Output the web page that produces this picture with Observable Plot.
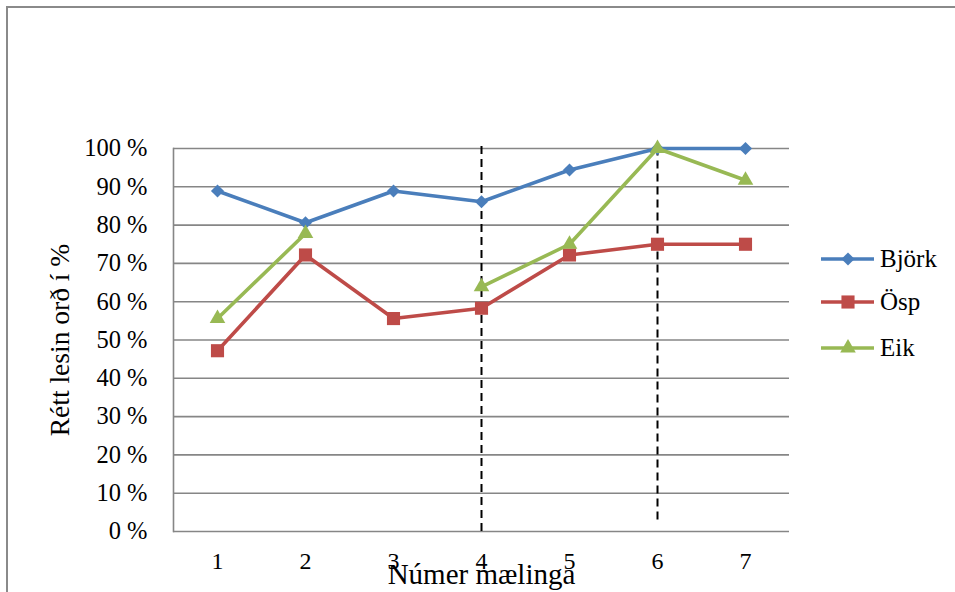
<!DOCTYPE html>
<html>
<head>
<meta charset="utf-8">
<script src="https://cdn.jsdelivr.net/npm/d3@7"></script>
<script src="https://cdn.jsdelivr.net/npm/@observablehq/plot@0.6"></script>
<style>
  body { margin: 0; background: #fff; font-family: "Liberation Serif", "Tinos", "Times New Roman", Times, "DejaVu Serif", serif; }
  #wrap { position: relative; width: 955px; height: 592px; overflow: hidden; }
  #chart { position: absolute; left: 0; top: 0; }
  #chart svg, #chart svg text { font-family: "Liberation Serif", "Tinos", "Times New Roman", Times, "DejaVu Serif", serif !important; }
  #frame { position: absolute; left: 6px; top: 6px; width: 980px; height: 620px;
           border-left: 2px solid #8a8a8a; border-top: 2px solid #8a8a8a; pointer-events: none; }
  .legend-row { position: absolute; left: 818px; height: 30px; display: flex; align-items: center;
                font-size: 25px; color: #000; }
  .legend-row svg { display: block; }
</style>
</head>
<body>
<div id="wrap">
  <div id="chart"></div>
  <div id="frame"></div>
  <div id="legend"></div>
</div>
<script>
// Measurement numbers along the x axis
const measurements = [1, 2, 3, 4, 5, 6, 7];

// Share of correctly read words (%) per measurement
const bjork = [88.9, 80.6, 88.9, 86.1, 94.4, 100, 100];
const osp = [47.2, 72.2, 55.6, 58.3, 72.2, 75, 75];
const eik = [55.6, 77.8, null, 63.9, 75, 100, 91.7];   // no reading at measurement 3

const seriesNames = ["Björk", "Ösp", "Eik"];
const seriesValues = [bjork, osp, eik];
const seriesColors = ["#4A7EBB", "#BE4B48", "#98B954"];
const seriesSymbols = ["diamond2", "square", "triangle"];
const seriesRadius = [5.9, 7.4, 5.8];

const yTicks = [0, 10, 20, 30, 40, 50, 60, 70, 80, 90, 100];
const yLabel = "Rétt lesin orð í %";
const xLabel = "Númer mælinga";

// Dashed dividers between phases: x position and vertical extent (%)
const dividerX = [4, 6];
const dividerTop = [101.3, 100];
const dividerBottom = [0, 3];

const rows = seriesNames.flatMap((name, i) =>
  measurements.map((m, j) => ({series: name, x: m, y: seriesValues[i][j]})));
const dividers = dividerX.map((x, i) => ({x, y1: dividerBottom[i], y2: dividerTop[i]}));

const marks = [
  Plot.gridY(yTicks, {stroke: "#868686", strokeOpacity: 1, strokeWidth: 1.6}),
  Plot.frame({anchor: "left", stroke: "#868686", strokeWidth: 1.6}),
  Plot.axisY(yTicks, {tickSize: 0, tickPadding: 26, fontSize: 24.5, tickFormat: d => d + " %", label: null}),
  Plot.axisX(measurements, {tickSize: 0, tickPadding: 20, fontSize: 24, label: null}),
  Plot.ruleX(dividers, {x: "x", y1: "y1", y2: "y2", stroke: "#000", strokeWidth: 2, strokeDasharray: "8,5"})
];

seriesNames.forEach((name, i) => {
  const data = rows.filter(d => d.series === name);
  marks.push(Plot.line(data, {x: "x", y: "y", stroke: seriesColors[i], strokeWidth: 3.6}));
  marks.push(Plot.dot(data.filter(d => d.y != null), {
    x: "x", y: "y", symbol: seriesSymbols[i], r: seriesRadius[i],
    fill: seriesColors[i], stroke: "none"
  }));
});

marks.push(Plot.text([yLabel], {frameAnchor: "left", textAnchor: "middle", lineAnchor: "middle",
  dx: -113, rotate: -90, fontSize: 27.5, text: d => d}));
marks.push(Plot.text([xLabel], {frameAnchor: "bottom", dy: 52, fontSize: 29, text: d => d}));

const chart = Plot.plot({
  width: 955,
  height: 592,
  marginLeft: 173,
  marginRight: 166,
  marginTop: 148,
  marginBottom: 61,
  style: {color: "#000", background: "transparent"},
  x: {type: "point", domain: measurements, padding: 0.5},
  y: {domain: [0, 100]},
  marks
});
document.getElementById("chart").append(chart);

// Legend: line segment with the series marker, then the name
const legend = document.getElementById("legend");
const legendCenters = [259, 302, 348];
seriesNames.forEach((name, i) => {
  const row = document.createElement("div");
  row.className = "legend-row";
  row.style.top = (legendCenters[i] - 15) + "px";
  const svg = d3.create("svg").attr("width", 62).attr("height", 30);
  svg.append("line").attr("x1", 3).attr("x2", 56).attr("y1", 15).attr("y2", 15)
    .attr("stroke", seriesColors[i]).attr("stroke-width", 3.6);
  const sym = {diamond2: d3.symbolDiamond2, square: d3.symbolSquare, triangle: d3.symbolTriangle}[seriesSymbols[i]];
  svg.append("path").attr("transform", "translate(30,15)")
    .attr("d", d3.symbol(sym, Math.PI * seriesRadius[i] * seriesRadius[i])())
    .attr("fill", seriesColors[i]);
  row.append(svg.node());
  const label = document.createElement("span");
  label.textContent = name;
  row.append(label);
  legend.append(row);
});
</script>
</body>
</html>
